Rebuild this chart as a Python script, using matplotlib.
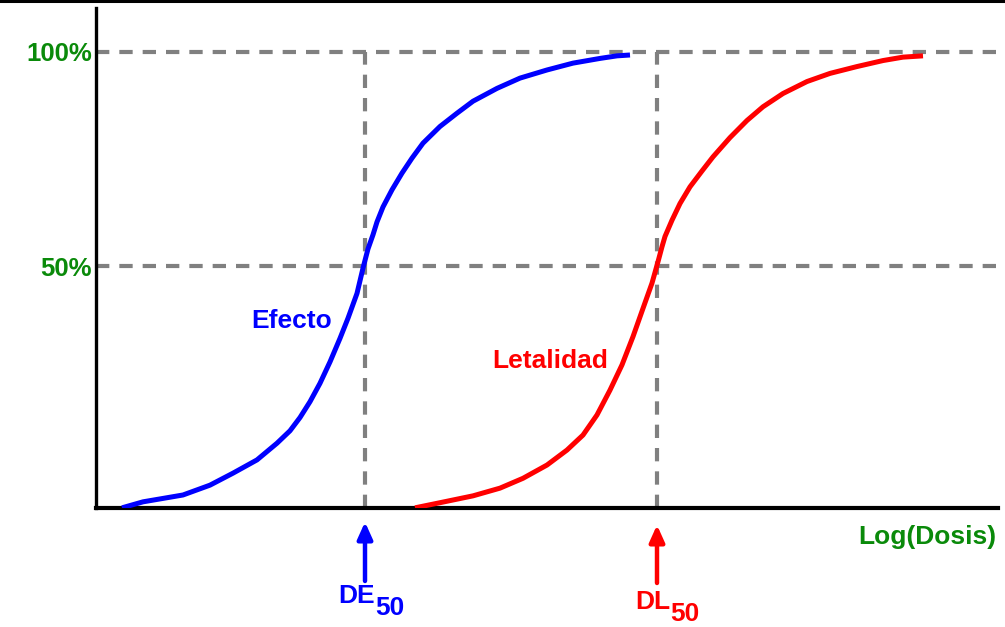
import matplotlib
matplotlib.use("Agg")
import matplotlib.pyplot as plt
import matplotlib.transforms as mtransforms
from matplotlib.lines import Line2D

# log-dose (arbitrary units) and response (%)
efecto_x = [0.26, 0.47, 0.87, 1.14, 1.37, 1.61, 1.81, 1.94, 2.04, 2.14, 2.24, 2.34,
            2.44, 2.52, 2.61, 2.67, 2.72, 2.77, 2.81, 2.87, 2.96, 3.06, 3.16, 3.27,
            3.44, 3.61, 3.77, 4.01, 4.24, 4.51, 4.77, 5.04, 5.21, 5.34]
efecto_y = [-6.5, -5.1, -3.5, -1.2, 1.6, 4.7, 8.6, 11.5, 14.6, 18.3, 22.6, 27.6,
            33.1, 37.8, 43.6, 49.5, 54.0, 57.3, 60.3, 63.8, 67.8, 71.7, 75.2, 78.7,
            82.6, 85.7, 88.5, 91.5, 93.9, 95.8, 97.4, 98.5, 99.1, 99.3]

letal_x = [3.19, 3.44, 3.77, 4.04, 4.27, 4.51, 4.71, 4.87, 5.01, 5.14, 5.26, 5.37,
           5.47, 5.56, 5.62, 5.66, 5.69, 5.76, 5.84, 5.94, 6.06, 6.17, 6.34, 6.51,
           6.67, 6.87, 7.11, 7.34, 7.61, 7.87, 8.07, 8.27]
letal_y = [-6.5, -5.3, -3.7, -1.9, 0.4, 3.5, 7.0, 10.5, 15.2, 21.0, 26.9, 33.5,
           40.1, 46.0, 51.0, 54.5, 56.9, 60.7, 64.6, 68.5, 72.2, 75.5, 80.0, 84.0,
           87.2, 90.3, 93.1, 95.0, 96.6, 98.0, 98.8, 99.1]

DE50 = 2.69
DL50 = 5.61
levels = [50, 100]
level_labels = ['50%', '100%']

green = '#0a8a0a'
grey = '#808080'
W, H = 1005, 627
fs = 19

plt.rcParams['font.family'] = ['Liberation Sans', 'DejaVu Sans']

fig = plt.figure(figsize=(W / 100, H / 100), dpi=100)
ax = fig.add_axes([96 / W, 119 / H, 902 / W, 500 / H])
ax.set_xlim(0, 9.02)
ax.set_ylim(-6.54, 110.28)

# dashed reference lines
for lv in levels:
    ax.axhline(lv, color=grey, lw=3, dashes=(3.2, 2.4), zorder=1)
ax.vlines([DE50, DL50], -6.54, 100, color=grey, lw=3, linestyles=(0, (3.2, 2.4)), zorder=1)

ax.plot(efecto_x, efecto_y, color='blue', lw=3.6, solid_capstyle='butt', zorder=3)
ax.plot(letal_x, letal_y, color='red', lw=3.6, solid_capstyle='butt', zorder=3)

# axes styling
for s in ['top', 'right']:
    ax.spines[s].set_visible(False)
ax.spines['left'].set_linewidth(2.4)
ax.spines['bottom'].set_linewidth(3)
ax.set_xticks([])
ax.set_yticks(levels)
ax.set_yticklabels(level_labels)
ax.tick_params(axis='y', length=0, pad=3, labelsize=18.5, labelcolor=green)
for t in ax.get_yticklabels():
    t.set_fontweight('bold')

ax.text(2.36, 37.1, 'Efecto', color='blue', fontsize=fs, fontweight='bold',
        ha='right', va='center')
ax.text(5.12, 27.8, 'Letalidad', color='red', fontsize=fs, fontweight='bold',
        ha='right', va='center')

# labels under the axis (x in data, y in figure fraction)
trans = mtransforms.blended_transform_factory(ax.transData, fig.transFigure)
fy = lambda py: 1 - py / H

fig.text(996 / W, fy(537), 'Log(Dosis)', color=green, fontsize=fs, fontweight='bold',
         ha='right', va='center')

for xv, col, lab, dx, off in [(DE50, 'blue', 'DE', 0.10, 0), (DL50, 'red', 'DL', 0.13, 6)]:
    ax.annotate('', xy=(xv, fy(522 + off / 2)), xytext=(xv, fy(581 + off / 3)),
                xycoords=trans, textcoords=trans,
                arrowprops=dict(arrowstyle='-|>,head_length=1.0,head_width=0.45',
                                color=col, lw=3.2, shrinkA=0, shrinkB=0))
    ax.text(xv + dx, fy(596 + off), lab, transform=trans, color=col, fontsize=fs,
            fontweight='bold', ha='right', va='center', clip_on=False)
    ax.text(xv + dx, fy(608 + off), '50', transform=trans, color=col, fontsize=fs,
            fontweight='bold', ha='left', va='center', clip_on=False)

# frame line along the top edge
fig.add_artist(Line2D([0, 1], [1 - 1 / H, 1 - 1 / H], transform=fig.transFigure,
                      color='black', lw=2.2))

fig.savefig('out.png', dpi=100)
